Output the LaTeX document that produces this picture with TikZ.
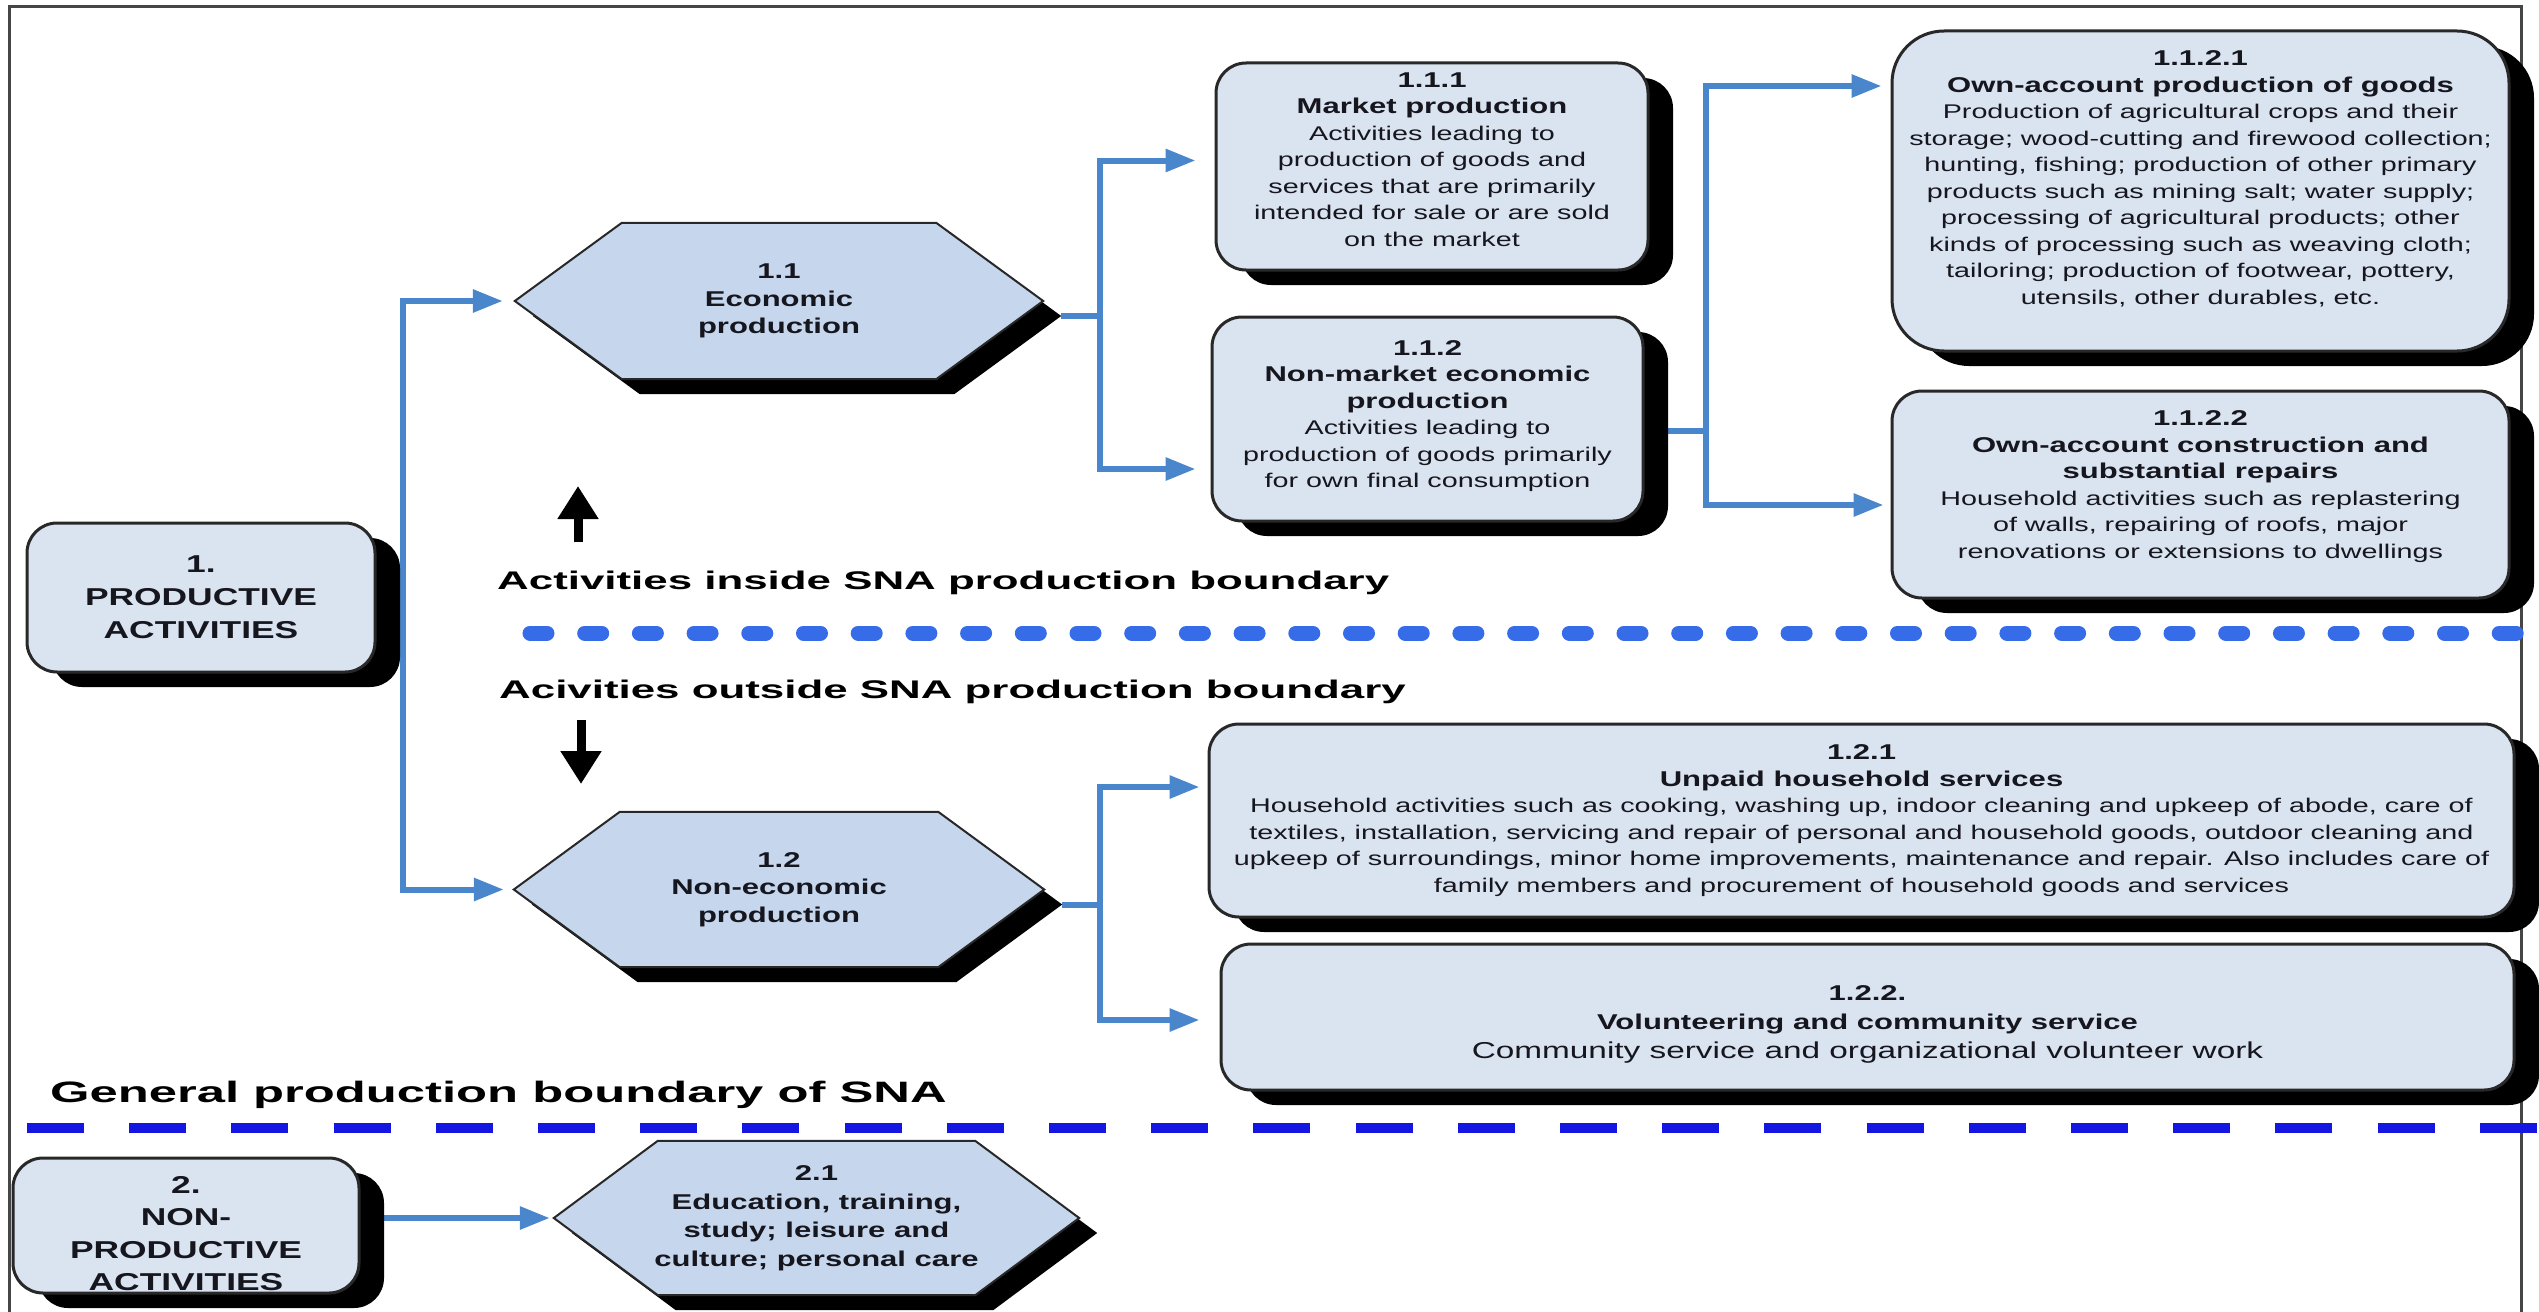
\documentclass[tikz,border=0pt]{standalone}
\usepackage{fontspec}
\newfontfamily\boxfont{Liberation Sans}[FakeStretch=1.45]
\newfontfamily\headfont{Liberation Sans}[FakeStretch=1.72]
\usetikzlibrary{arrows.meta,shadows,calc}
\pgfdeclarelayer{wires}
\pgfdeclarelayer{hexes}
\pgfsetlayers{wires,hexes,main}

\definecolor{boxfill}{RGB}{218,227,240}
\definecolor{hexfill}{RGB}{197,214,237}
\definecolor{boxline}{RGB}{40,40,40}
\definecolor{wire}{RGB}{74,134,204}
\definecolor{dotblue}{RGB}{55,108,232}
\definecolor{dashblue}{RGB}{22,22,226}
\definecolor{framegray}{RGB}{70,70,70}
\definecolor{ink}{RGB}{22,22,30}

% bold title line inside a card
\newcommand{\ttl}[1]{{\fontsize{21.4pt}{26.5pt}\selectfont\bfseries #1}}
% hexagon with its black offset shadow, built on a plain named node
\newcommand{\hexbody}[2]{%
  \fill[black] ([shift={(18pt,-15pt)}]#1.west)
    -- ([shift={(#2+18pt,-15pt)}]#1.north west)
    -- ([shift={(-#2+18pt,-15pt)}]#1.north east)
    -- ([shift={(18pt,-15pt)}]#1.east)
    -- ([shift={(-#2+18pt,-15pt)}]#1.south east)
    -- ([shift={(#2+18pt,-15pt)}]#1.south west) -- cycle;
  \filldraw[fill=hexfill, draw=boxline, line width=2pt, line join=miter]
    (#1.west) -- ([xshift=#2]#1.north west) -- ([xshift=-#2]#1.north east)
    -- (#1.east) -- ([xshift=-#2]#1.south east) -- ([xshift=#2]#1.south west) -- cycle;}

\begin{document}
\begin{tikzpicture}[x=1pt,y=-1pt,
  card/.style={draw=boxline, line width=3pt, fill=boxfill, rounded corners=30pt,
    inner sep=0pt, align=center, text=ink,
    font=\boxfont\fontsize{19.8pt}{26.5pt}\selectfont,
    drop shadow={shadow xshift=25pt, shadow yshift=-15pt, opacity=1, fill=black}},
  bigcard/.style={card, font=\boxfont\bfseries\fontsize{24.4pt}{33pt}\selectfont},
  hexnode/.style={inner sep=0pt, align=center, text=ink,
    font=\boxfont\bfseries\fontsize{21.4pt}{27.5pt}\selectfont},
  headtxt/.style={inner sep=0pt, text=black,
    font=\headfont\bfseries\fontsize{25.5pt}{30pt}\selectfont},
  conn/.style={draw=wire, line width=6pt},
  tip/.style={-{Triangle[length=30pt,width=22pt]}},
  blackarrow/.style={draw=black, line width=9pt, -{Triangle[length=33pt,width=39pt]}},
  dotline/.style={draw=dotblue, line width=15pt, line cap=round, dash pattern=on 17pt off 37.7pt},
  dashline/.style={draw=dashblue, line width=10pt, dash pattern=on 57pt off 45.2pt}
]
\useasboundingbox (0,0) rectangle (2539,1311);

% ---------- boxes ----------
\node[bigcard, minimum width=348pt, minimum height=149pt] (act1) at (201,597.5)
  {1.\\PRODUCTIVE\\ACTIVITIES};
\node[bigcard, minimum width=346pt, minimum height=135pt, text height=131pt,
  font=\boxfont\bfseries\fontsize{24.4pt}{32.5pt}\selectfont] (act2) at (186,1225.5)
  {2.\\NON-\\PRODUCTIVE\\ACTIVITIES};

\node[hexnode, minimum width=528pt, minimum height=156pt] (h11) at (779,301)
  {1.1\\Economic\\production};
\node[hexnode, minimum width=530pt, minimum height=155pt] (h12) at (779,889.5)
  {1.2\\Non-economic\\production};
\node[hexnode, minimum width=525pt, minimum height=154pt,
  font=\boxfont\bfseries\fontsize{21.4pt}{28.5pt}\selectfont] (h21) at (816.5,1218)
  {2.1\\Education, training,\\study; leisure and\\culture; personal care};

\node[card, minimum width=432pt, minimum height=207pt, text depth=14pt] (c111) at (1432,166.5)
  {\ttl{1.1.1}\\\ttl{Market production}\\Activities leading to\\production of goods and\\services that are primarily\\intended for sale or are sold\\on the market};
\node[card, minimum width=431pt, minimum height=204pt, text depth=10pt] (c112) at (1427.5,419)
  {\ttl{1.1.2}\\\ttl{Non-market economic}\\\ttl{production}\\Activities leading to\\production of goods primarily\\for own final consumption};
\node[card, rounded corners=52pt, minimum width=617pt, minimum height=320pt, text depth=27pt] (c1121) at (2200.5,191)
  {\ttl{1.1.2.1}\\\ttl{Own-account production of goods}\\Production of agricultural crops and their\\storage; wood-cutting and firewood collection;\\hunting, fishing; production of other primary\\products such as mining salt; water supply;\\processing of agricultural products; other\\kinds of processing such as weaving cloth;\\tailoring; production of footwear, pottery,\\utensils, other durables, etc.};
\node[card, minimum width=617pt, minimum height=207pt, text depth=20pt] (c1122) at (2200.5,494.5)
  {\ttl{1.1.2.2}\\\ttl{Own-account construction and}\\\ttl{substantial repairs}\\Household activities such as replastering\\of walls, repairing of roofs, major\\renovations or extensions to dwellings};
\node[card, minimum width=1305pt, minimum height=193pt] (c121) at (1861.5,820.5)
  {\ttl{1.2.1}\\\ttl{Unpaid household services}\\Household activities such as cooking, washing up, indoor cleaning and upkeep of abode, care of\\textiles, installation, servicing and repair of personal and household goods, outdoor cleaning and\\upkeep of surroundings, minor home improvements, maintenance and repair. Also includes care of\\family members and procurement of household goods and services};
\node[card, minimum width=1293pt, minimum height=146pt, text height=87pt,
  font=\boxfont\fontsize{23pt}{29pt}\selectfont] (c122) at (1867.5,1017)
  {\ttl{1.2.2.}\\\ttl{Volunteering and community service}\\Community service and organizational volunteer work};

% ---------- boundary labels ----------
\node[headtxt, anchor=base west] (inside) at (497,589) {Activities inside SNA production boundary};
\node[headtxt, anchor=base west] (outside) at (499,698.5) {Acivities outside SNA production boundary};
\node[headtxt, anchor=base west, font=\headfont\bfseries\fontsize{29.5pt}{32pt}\selectfont] (general) at (50,1102)
  {General production boundary of SNA};

% ---------- junction points ----------
\coordinate (t1) at (403,597.5);
\coordinate (b1) at (1100,316);
\coordinate (b2) at (1706,431);
\coordinate (b3) at (1100,904.5);
\coordinate (upTail) at (578,542);
\coordinate (upTip) at (578,486);
\coordinate (dnTail) at (581,720);
\coordinate (dnTip) at (581,784);
\coordinate (dotA) at (530,633);
\coordinate (dotB) at (2560,633);
\coordinate (dashA) at (27,1128);
\coordinate (dashB) at (2560,1128);

% ---------- hexagon bodies ----------
\begin{pgfonlayer}{hexes}
  \hexbody{h11}{107pt}
  \hexbody{h12}{106pt}
  \hexbody{h21}{104pt}
\end{pgfonlayer}

% ---------- frame and connectors ----------
\begin{pgfonlayer}{wires}
  \draw[framegray, line width=3pt] (9,1320) -- (9,7) -- (2521,7) -- (2521,1320);

  \draw[conn] (act1.east) -- (t1);
  \draw[conn,tip,shorten >=12pt] (t1) |- (h11.west);
  \draw[conn,tip,shorten >=10pt] (t1) |- (h12.west);

  \draw[conn] ([shift={(18pt,-15pt)}]h11.east) -- (b1);
  \draw[conn,tip,shorten >=19pt] (b1) |- ([yshift=6pt]c111.west);
  \draw[conn,tip,shorten >=15pt] (b1) |- ([yshift=-50pt]c112.west);

  \draw[conn] (c112.east |- b2) -- (b2);
  \draw[conn,tip,shorten >=9pt] (b2) |- ([yshift=105pt]c1121.west);
  \draw[conn,tip,shorten >=7pt] (b2) |- ([yshift=-10.5pt]c1122.west);

  \draw[conn] ([shift={(18pt,-15pt)}]h12.east) -- (b3);
  \draw[conn,tip,shorten >=8pt] (b3) |- ([yshift=33.5pt]c121.west);
  \draw[conn,tip,shorten >=20pt] (b3) |- ([yshift=-3pt]c122.west);

  \draw[conn,tip,shorten >=4pt] (act2.east |- h21.west) -- (h21.west);
\end{pgfonlayer}

% ---------- boundary lines and direction arrows ----------
\draw[dotline] (dotA) -- (dotB);
\draw[dashline] (dashA) -- (dashB);
\draw[blackarrow] (upTail) -- (upTip);
\draw[blackarrow] (dnTail) -- (dnTip);
\end{tikzpicture}
\end{document}
